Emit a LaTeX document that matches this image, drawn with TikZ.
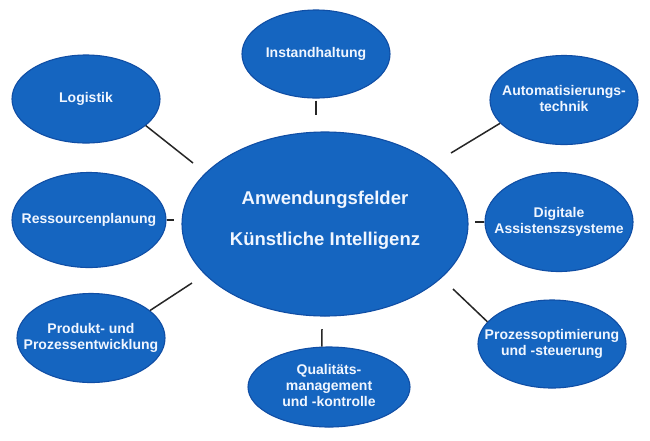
\documentclass[tikz,border=0pt]{standalone}
\usepackage{fontspec}
\setmainfont{Liberation Sans}
\usetikzlibrary{shapes.geometric}
\definecolor{kifill}{RGB}{21,101,192}
\definecolor{kiedge}{RGB}{16,78,165}
\definecolor{kitext}{RGB}{240,246,255}
\newcommand\zw[1]{\makebox[0pt]{\begin{tabular}{@{}c@{}}#1\end{tabular}}}
\tikzset{
  field/.style={ellipse, fill=kifill, draw=kiedge, line width=1.1pt, inner sep=0pt,
    text=kitext, align=center, font=\bfseries\fontsize{14}{16}\selectfont},
  hub/.style={field, font=\bfseries\fontsize{18.5}{20}\selectfont},
  link/.style={draw=black!85, line width=1.5pt}
}
\renewcommand\arraystretch{1}
\begin{document}
\begin{tikzpicture}[x=1pt,y=-1pt]
\useasboundingbox[fill=white] (0,0) rectangle (650,440);
% hub
\node[hub, minimum width=286pt, minimum height=184pt] (hub) at (325,224)
  {Anwendungsfelder\\[21pt]Künstliche Intelligenz\\[-8pt]\mbox{}};
% satellites
\node[field, minimum width=148pt, minimum height=88pt] (instand) at (316,54) {\zw{Instandhaltung}};
\node[field, minimum width=148pt, minimum height=88pt] (logistik) at (86,99) {\zw{Logistik}};
\node[field, minimum width=148pt, minimum height=89pt] (auto) at (564,100) {\zw{Automatisierungs-\\technik}};
\node[field, minimum width=154pt, minimum height=95pt] (ressourcen) at (89,220) {\zw{Ressourcenplanung}};
\node[field, minimum width=148pt, minimum height=99pt] (digital) at (559,222) {\zw{Digitale\\Assistenszsysteme}};
\node[field, minimum width=148pt, minimum height=89pt] (produkt) at (91,338) {\zw{Produkt- und\\Prozessentwicklung}};
\node[field, minimum width=162pt, minimum height=80pt] (qual) at (329,387) {\zw{Qualitäts-\\management\\und -kontrolle}};
\node[field, minimum width=148pt, minimum height=88pt] (prozess) at (552,344) {\zw{Prozessoptimierung\\und -steuerung}};
% free ends of the connectors
\coordinate (e1) at (193,163);
\coordinate (e2) at (316,115);
\coordinate (e3) at (451,153);
\coordinate (e4) at (174,220);
\coordinate (e5) at (475,222);
\coordinate (e6) at (192,283);
\coordinate (e7) at (322,329);
\coordinate (e8) at (453,289);
% connectors
\draw[link] (logistik.-24) -- (e1);
\draw[link, shorten <=2pt] (instand.south) -- (e2);
\draw[link] (auto.200) -- (e3);
\draw[link] (ressourcen.east) -- (e4);
\draw[link] (digital.west) -- (e5);
\draw[link] (produkt.25) -- (e6);
\draw[link] (qual.100) -- (e7);
\draw[link] (prozess.161) -- (e8);
\end{tikzpicture}
\end{document}
